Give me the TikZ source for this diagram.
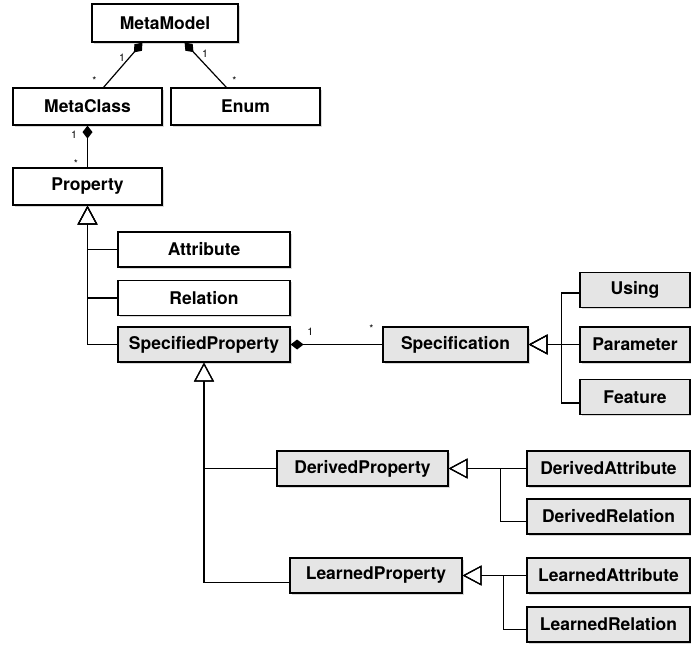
\documentclass[tikz,border=0pt]{standalone}
\usepackage{fontspec}
\setmainfont{TeX Gyre Heros}
\usetikzlibrary{arrows.meta}
\usetikzlibrary{shadows}

\begin{document}
\begin{tikzpicture}[x=1pt, y=-1pt, line width=1.2pt]
      % Definimos algunos estilos
      \tikzstyle{clase}=[
        draw=black,
        fill=white,
        inner sep=0pt,
        minimum height=35pt,
        font=\fontsize{17.5}{20}\selectfont\bfseries,
        drop shadow={opacity=0.3, shadow xshift=1.5pt, shadow yshift=-1.5pt}
      ]
      % clases con fondo gris
      \tikzstyle{clase_gris}=[clase, fill=gray!20]
      % herencia: triangulo abierto en la superclase
      \tikzstyle{herencia}=[-{Triangle[open, length=19pt, width=20pt]}]
      % composicion: rombo relleno en el todo
      \tikzstyle{composicion}=[-{Diamond[length=13pt, width=10pt]}]
      % multiplicidades
      \tikzstyle{mult}=[inner sep=2pt, font=\fontsize{10.5}{12}\selectfont]

      \useasboundingbox (0,0) rectangle (691,646);

      % parte superior
      \node[clase, minimum width=146pt, minimum height=38pt] (MetaModel) at (165,23) {MetaModel};
      \node[clase, minimum width=149pt, minimum height=37pt] (MetaClass) at (87.5,106.5) {MetaClass};
      \node[clase, minimum width=149pt, minimum height=37pt] (Enum) at (245.5,106.5) {Enum};
      \node[clase, minimum width=149pt, minimum height=37pt] (Property) at (87.5,186.5) {Property};

      % subclases de Property
      \node[clase, minimum width=172pt] (Attribute) at (204,249.5) {Attribute};
      \node[clase, minimum width=172pt] (Relation) at (204,298) {Relation};
      \node[clase_gris, minimum width=172pt] (SpecifiedProperty) at (204,344.5) {SpecifiedProperty};

      % Specification y sus subclases
      \node[clase_gris, minimum width=145pt] (Specification) at (455.5,344.5) {Specification};
      \node[clase_gris, minimum width=110pt] (Using) at (635,290) {Using};
      \node[clase_gris, minimum width=110pt] (Parameter) at (635,344.5) {Parameter};
      \node[clase_gris, minimum width=110pt] (Feature) at (635,397) {Feature};

      % DerivedProperty
      \node[clase_gris, minimum width=171pt] (DerivedProperty) at (362.5,468.5) {DerivedProperty};
      \node[clase_gris, minimum width=163pt] (DerivedAttribute) at (608.5,468.5) {DerivedAttribute};
      \node[clase_gris, minimum width=163pt] (DerivedRelation) at (608.5,516.5) {DerivedRelation};

      % LearnedProperty
      \node[clase_gris, minimum width=172pt] (LearnedProperty) at (376,575.5) {LearnedProperty};
      \node[clase_gris, minimum width=163pt] (LearnedAttribute) at (608.5,575.5) {LearnedAttribute};
      \node[clase_gris, minimum width=163pt] (LearnedRelation) at (608.5,624.5) {LearnedRelation};

      % composiciones
      \draw[composicion] (MetaClass.50) -- node[mult, pos=0.14, left=10pt] {*} node[mult, pos=0.67, left=2pt] {1} (MetaModel.-139);
      \draw[composicion] (Enum.135) -- node[mult, pos=0.16, right=10pt] {*} node[mult, pos=0.76, right=5pt] {1} (MetaModel.-45);
      \draw[composicion] (Property.north) -- node[mult, pos=0.08, left=7pt] {*} node[mult, pos=0.77, left=8pt] {1} (MetaClass.south);
      \draw[composicion] (Specification.west) -- node[mult, pos=0.12, above=9pt] {*} node[mult, pos=0.785, above=6pt] {1} (SpecifiedProperty.east);

      % herencia de Property
      \draw[herencia] (Attribute.west) -| (Property.south);
      \draw[herencia] (Relation.west) -| (Property.south);
      \draw[herencia] (SpecifiedProperty.west) -| (Property.south);

      % herencia de SpecifiedProperty
      \draw[herencia] (DerivedProperty.west) -| (SpecifiedProperty.south);
      \draw[herencia] ([yshift=-7pt]LearnedProperty.west) -| (SpecifiedProperty.south);

      % herencia de Specification
      \draw[herencia] ([yshift=-3pt]Using.west) -- ++(-18,0) |- (Specification.east);
      \draw[herencia] (Parameter.west) -- (Specification.east);
      \draw[herencia] ([yshift=-6pt]Feature.west) -- ++(-18,0) |- (Specification.east);

      % herencia de DerivedProperty y LearnedProperty
      \draw[herencia] (DerivedAttribute.west) -- (DerivedProperty.east);
      \draw[herencia] ([yshift=-5pt]DerivedRelation.west) -- ++(-26,0) |- (DerivedProperty.east);
      \draw[herencia] (LearnedAttribute.west) -- (LearnedProperty.east);
      \draw[herencia] ([yshift=-5pt]LearnedRelation.west) -- ++(-23,0) |- (LearnedProperty.east);
\end{tikzpicture}
\end{document}
